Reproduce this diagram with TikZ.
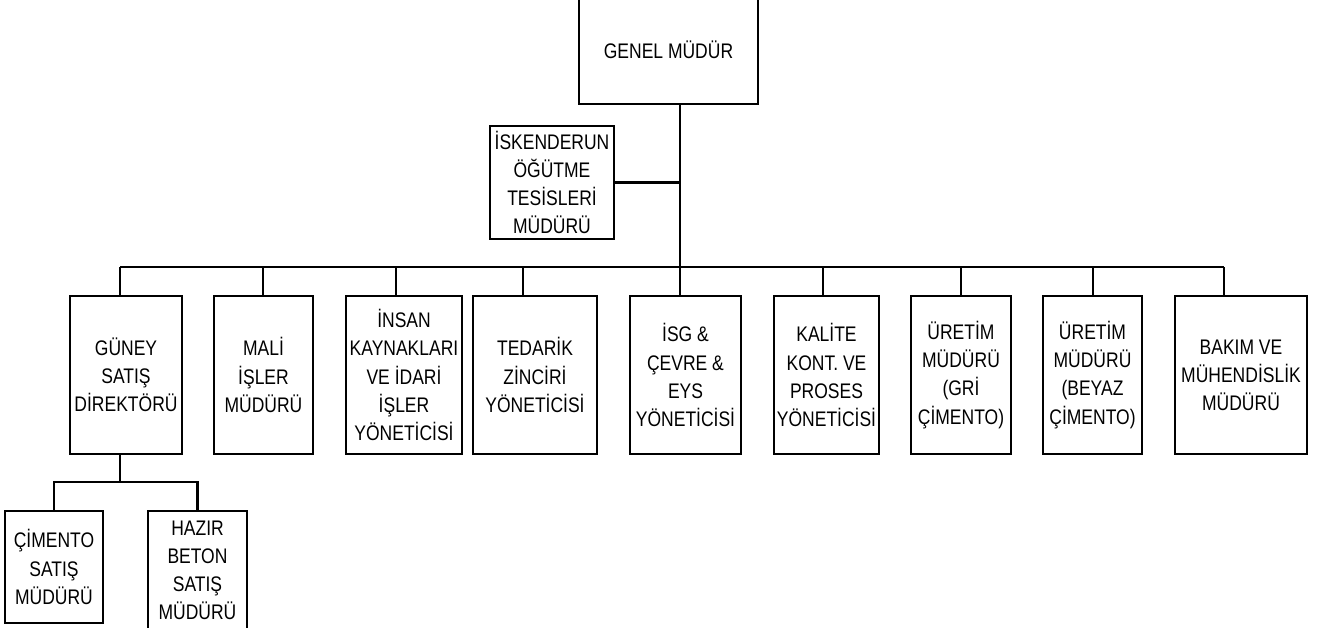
\documentclass[tikz,border=0pt]{standalone}
\usepackage{fontspec}
\setmainfont{Liberation Sans}[FakeStretch=0.83]
\tikzset{
    box/.style={draw, line width=1pt, align=center, inner sep=0pt,
      font=\fontsize{12}{16}\selectfont},
    lvl/.style={box, minimum height=3.16cm},
    trunk/.style={line width=1.2pt},
    bus/.style={line width=0.6pt},
    drop/.style={line width=0.9pt}
}
\begin{document}
\begin{tikzpicture}[x=0.02cm, y=-0.02cm]
    \useasboundingbox (0,0) rectangle (1317,627);
    \clip (0,0) rectangle (1317,627);

    % Top
    \node[box, minimum width=3.58cm, minimum height=2.16cm] (gm) at (668.5,50) {GENEL MÜDÜR};
    \node[box, minimum width=2.48cm, minimum height=2.26cm] (isk) at (552,182.5) {İSKENDERUN\\ÖĞÜTME\\TESİSLERİ\\MÜDÜRÜ};

    % Second level
    \node[lvl, minimum width=2.24cm] (guney) at (126,375) {GÜNEY\\SATIŞ\\DİREKTÖRÜ};
    \node[lvl, minimum width=1.98cm] (mali) at (263.5,375) {MALİ\\İŞLER\\MÜDÜRÜ};
    \node[lvl, minimum width=2.32cm] (insan) at (404,375) {İNSAN\\KAYNAKLARI\\VE İDARİ\\İŞLER\\YÖNETİCİSİ};
    \node[lvl, minimum width=2.48cm] (tedarik) at (535,375) {TEDARİK\\ZİNCİRİ\\YÖNETİCİSİ};
    \node[lvl, minimum width=2.22cm] (isg) at (685.5,375) {İSG \&\\ÇEVRE \&\\EYS\\YÖNETİCİSİ};
    \node[lvl, minimum width=2.10cm] (kalite) at (826.5,375) {KALİTE\\KONT. VE\\PROSES\\YÖNETİCİSİ};
    \node[lvl, minimum width=2.00cm] (uretg) at (961,375) {ÜRETİM\\MÜDÜRÜ\\(GRİ\\ÇİMENTO)};
    \node[lvl, minimum width=1.98cm] (uretb) at (1092.5,375) {ÜRETİM\\MÜDÜRÜ\\(BEYAZ\\ÇİMENTO)};
    \node[lvl, minimum width=2.64cm] (bakim) at (1241,375) {BAKIM VE\\MÜHENDİSLİK\\MÜDÜRÜ};

    % Sales
    \node[box, minimum width=1.96cm, minimum height=2.24cm] (cimento) at (54,567) {ÇİMENTO\\SATIŞ\\MÜDÜRÜ};
    \node[box, minimum width=1.98cm, minimum height=2.38cm] (hazir) at (197.5,570.5) {HAZIR\\BETON\\SATIŞ\\MÜDÜRÜ};

    % Bus points
    \coordinate (t) at (680,267);
    \coordinate (dguney) at (120,267);
    \coordinate (dmali) at (263,267);
    \coordinate (dinsan) at (396,267);
    \coordinate (dtedarik) at (523,267);
    \coordinate (disg) at (680,267);
    \coordinate (dkalite) at (823,267);
    \coordinate (duretg) at (961,267);
    \coordinate (duretb) at (1093,267);
    \coordinate (dbakim) at (1224,267);
    \coordinate (s) at (120,482);

    % Connectors
    \draw[trunk] (t |- gm.south) -- (t);
    \draw[trunk] (isk.east) -- (isk.east -| t);
    \draw[bus] (dguney) -- (dbakim);
    \foreach \n in {guney,mali,insan,tedarik,isg,kalite,uretg,uretb,bakim}
        \draw[drop] (d\n) -- (d\n |- \n.north);
    \draw[trunk] (s |- guney.south) -- (s);
    \draw[trunk] (cimento.north) |- (s) -| (hazir.north);
\end{tikzpicture}
\end{document}
